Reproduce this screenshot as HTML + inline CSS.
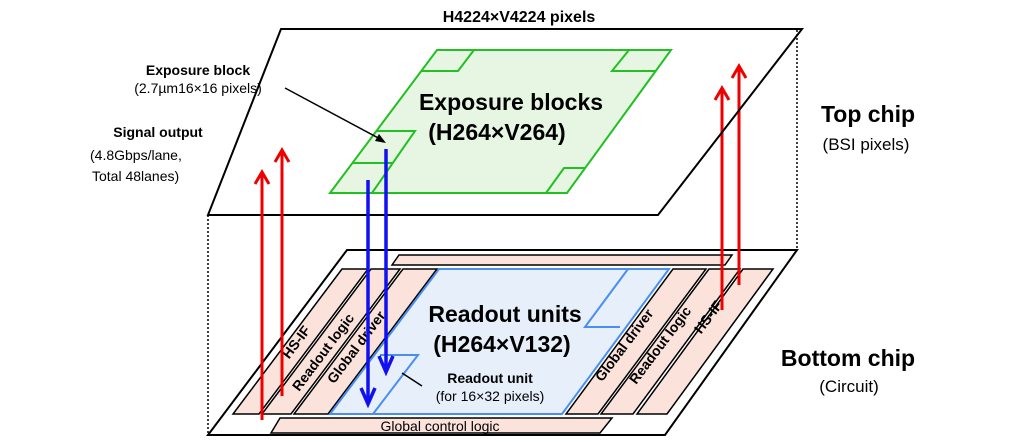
<!DOCTYPE html>
<html><head><meta charset="utf-8"><style>
html,body{margin:0;padding:0;background:#fff;}
svg{display:block;font-family:"Liberation Sans",Arial,sans-serif;}
</style></head><body>
<svg width="1024" height="446" viewBox="0 0 1024 446" xmlns="http://www.w3.org/2000/svg">
<!-- dotted verticals -->
<line x1="208" y1="215" x2="208" y2="436" stroke="#000" stroke-width="1.5" stroke-dasharray="2,2"/>
<line x1="797" y1="30" x2="797" y2="250" stroke="#000" stroke-width="1.5" stroke-dasharray="2,2"/>
<!-- bottom chip -->
<polygon points="347,250 797,250 665,435 208,435" fill="#fff" stroke="#000" stroke-width="2"/>
<polygon points="399,255 732,255 725,265 392,265" fill="#fbe3dc" stroke="#000" stroke-width="1.5"/>
<polygon points="280,418 612,418 600,433 271,433" fill="#fbe3dc" stroke="#000" stroke-width="1.5"/>
<text x="440" y="431" font-size="14" text-anchor="middle">Global control logic</text>
<!-- left strips -->
<polygon points="342,269 368,269 259,414 233,414" fill="#fbe3dc" stroke="#000" stroke-width="1.5"/>
<polygon points="371,269 400,269 291,414 262,414" fill="#fbe3dc" stroke="#000" stroke-width="1.5"/>
<polygon points="403,269 437,269 328,414 294,414" fill="#fbe3dc" stroke="#000" stroke-width="1.5"/>
<text transform="translate(300,345) rotate(-53)" font-size="14" font-weight="bold" text-anchor="middle">HS-IF</text>
<text transform="translate(327,355) rotate(-53)" font-size="14" font-weight="bold" text-anchor="middle">Readout logic</text>
<text transform="translate(360,350) rotate(-53)" font-size="14" font-weight="bold" text-anchor="middle">Global driver</text>
<!-- right strips -->
<polygon points="673,269 706,269 598,414 566,414" fill="#fbe3dc" stroke="#000" stroke-width="1.5"/>
<polygon points="709,269 740,269 633,414 601,414" fill="#fbe3dc" stroke="#000" stroke-width="1.5"/>
<polygon points="743,269 773,269 667,414 637,414" fill="#fbe3dc" stroke="#000" stroke-width="1.5"/>
<text transform="translate(628,348) rotate(-53)" font-size="14" font-weight="bold" text-anchor="middle">Global driver</text>
<text transform="translate(664,348) rotate(-53)" font-size="14" font-weight="bold" text-anchor="middle">Readout logic</text>
<text transform="translate(712,320) rotate(-53)" font-size="14" font-weight="bold" text-anchor="middle">HS-IF</text>
<!-- blue region -->
<polygon points="439,269 669,269 562,414 330,414" fill="#e6effa" stroke="#4a8ef0" stroke-width="2"/>
<polyline points="628,269 585,327 620,327" fill="none" stroke="#4a8ef0" stroke-width="2"/>
<polyline points="373,414 418,355 380,355" fill="none" stroke="#4a8ef0" stroke-width="2"/>
<text x="505" y="322" font-size="23" font-weight="bold" text-anchor="middle">Readout units</text>
<text x="502" y="352" font-size="23" font-weight="bold" text-anchor="middle">(H264×V132)</text>
<text x="490" y="383" font-size="14" font-weight="bold" text-anchor="middle">Readout unit</text>
<text x="490" y="401" font-size="14" text-anchor="middle">(for 16×32 pixels)</text>
<line x1="422" y1="386" x2="402" y2="373" stroke="#000" stroke-width="1.5"/>
<!-- red arrows right -->
<g stroke="#e00" stroke-width="3" fill="none">
<line x1="722" y1="310" x2="722" y2="88"/>
<polyline points="715,100 722,88 729,100"/>
<line x1="739" y1="285" x2="739" y2="66"/>
<polyline points="732,78 739,66 746,78"/>
</g>
<!-- top chip -->
<polygon points="281,29 802,29 658,215 208,215" fill="none" stroke="#000" stroke-width="2"/>
<polygon points="437,50 671,50 567,193 330,193" fill="#e6f6e3" stroke="#22c022" stroke-width="2"/>
<polyline points="474,50 458,71 421,71" fill="none" stroke="#22c022" stroke-width="2"/>
<polyline points="629,50 612,71 656,71" fill="none" stroke="#22c022" stroke-width="2"/>
<polyline points="546,193 564,168 585,168" fill="none" stroke="#22c022" stroke-width="2"/>
<polyline points="377,131 415,131 372,193" fill="none" stroke="#22c022" stroke-width="2"/>
<line x1="353" y1="163" x2="393" y2="163" stroke="#22c022" stroke-width="2"/>
<text x="511" y="110" font-size="23" font-weight="bold" text-anchor="middle">Exposure blocks</text>
<text x="497" y="140" font-size="23" font-weight="bold" text-anchor="middle">(H264×V264)</text>
<text x="519" y="22" font-size="16" font-weight="bold" text-anchor="middle">H4224×V4224 pixels</text>
<!-- arrows left red -->
<g stroke="#e00" stroke-width="3" fill="none">
<line x1="262" y1="420" x2="262" y2="172"/>
<polyline points="255,184 262,172 269,184"/>
<line x1="282" y1="396" x2="282" y2="150"/>
<polyline points="275,162 282,150 289,162"/>
</g>
<!-- blue arrows -->
<line x1="368" y1="180" x2="368" y2="402" stroke="#1010f0" stroke-width="3.5"/>
<polyline points="361,388 368,404 375,388" fill="none" stroke="#1010f0" stroke-width="3.5"/>
<line x1="386" y1="149" x2="386" y2="370" stroke="#1010f0" stroke-width="3.5"/>
<polyline points="379,356 386,372 393,356" fill="none" stroke="#1010f0" stroke-width="3.5"/>
<!-- exposure block pointer -->
<line x1="285" y1="88" x2="382" y2="140" stroke="#000" stroke-width="1.5"/>
<polygon points="386,143 375,141 379,134" fill="#000"/>
<!-- left labels -->
<text x="198" y="75" font-size="14" font-weight="bold" text-anchor="middle">Exposure block</text>
<text x="198" y="93" font-size="14" text-anchor="middle">(2.7µm16×16 pixels)</text>
<text x="158" y="137" font-size="14" font-weight="bold" text-anchor="middle">Signal output</text>
<text x="90" y="160" font-size="14">(4.8Gbps/lane,</text>
<text x="92" y="181" font-size="14">Total 48lanes)</text>
<!-- right labels -->
<text x="868" y="122" font-size="23" font-weight="bold" text-anchor="middle">Top chip</text>
<text x="866" y="150" font-size="17" text-anchor="middle">(BSI pixels)</text>
<text x="848" y="366" font-size="23" font-weight="bold" text-anchor="middle">Bottom chip</text>
<text x="849" y="392" font-size="17" text-anchor="middle">(Circuit)</text>
</svg>
</body></html>
